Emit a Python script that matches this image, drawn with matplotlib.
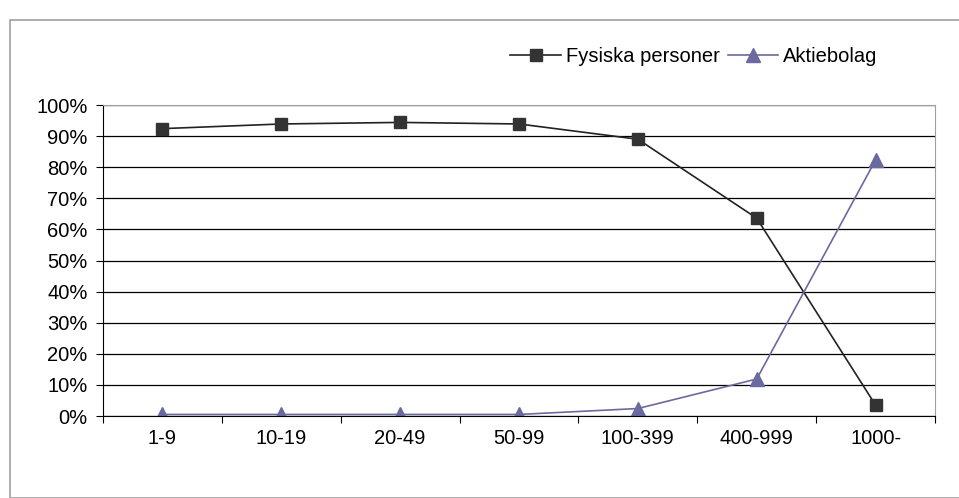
import matplotlib.pyplot as plt
from matplotlib.patches import Rectangle

plt.rcParams['font.family'] = ['Liberation Sans', 'DejaVu Sans']

categories = ['1-9', '10-19', '20-49', '50-99', '100-399', '400-999', '1000-']
fysiska = [92.4, 93.9, 94.4, 93.9, 89.0, 63.6, 3.5]
aktiebolag = [0.5, 0.5, 0.5, 0.5, 2.4, 11.9, 82.3]
yticks = [0, 10, 20, 30, 40, 50, 60, 70, 80, 90, 100]

fig = plt.figure(figsize=(9.59, 4.98), dpi=100)
fig.patches.append(Rectangle((10 / 959, 0), 1, 1 - 20 / 498, transform=fig.transFigure,
                             fill=False, edgecolor='#a0a0a0', linewidth=1.2))
ax = fig.add_axes([103 / 959, 1 - 416 / 498, (935 - 103) / 959, (416 - 105) / 498])

x = range(len(categories))
ax.plot(x, fysiska, color='#222222', marker='s', markersize=8.5, markerfacecolor='#333333',
        markeredgecolor='#333333', linewidth=1.2, label='Fysiska personer')
ax.plot(x, aktiebolag, color='#6a6aa0', marker='^', markersize=9.5, markerfacecolor='#6a6aa0',
        markeredgecolor='#6a6aa0', linewidth=1.2, label='Aktiebolag')

ax.set_xlim(-0.5, len(categories) - 0.5)
ax.set_ylim(0, 100)
ax.set_yticks(yticks)
ax.set_yticklabels([f'{v}%' for v in yticks], fontsize=14.5)
ax.set_xticks([i - 0.5 for i in range(len(categories) + 1)])
ax.set_xticklabels([])
ax.set_xticks(list(x), minor=True)
ax.set_xticklabels(categories, minor=True, fontsize=14.5)
ax.tick_params(axis='x', which='minor', length=0, pad=9)
ax.tick_params(axis='x', which='major', direction='out', length=5, color='black')
ax.tick_params(axis='y', direction='out', length=5, color='black', pad=6)

ax.yaxis.grid(True, color='black', linewidth=0.9)
ax.set_axisbelow(True)
for s in ['top', 'right']:
    ax.spines[s].set_color('#a0a0a0')
for s in ['left', 'bottom']:
    ax.spines[s].set_color('black')

fig.legend(loc='center', bbox_to_anchor=(694 / 959, 1 - 57 / 498), ncol=2, frameon=False,
           fontsize=14.5, handlelength=2.5, columnspacing=0.4, handletextpad=0.25)

plt.savefig('out.png')
